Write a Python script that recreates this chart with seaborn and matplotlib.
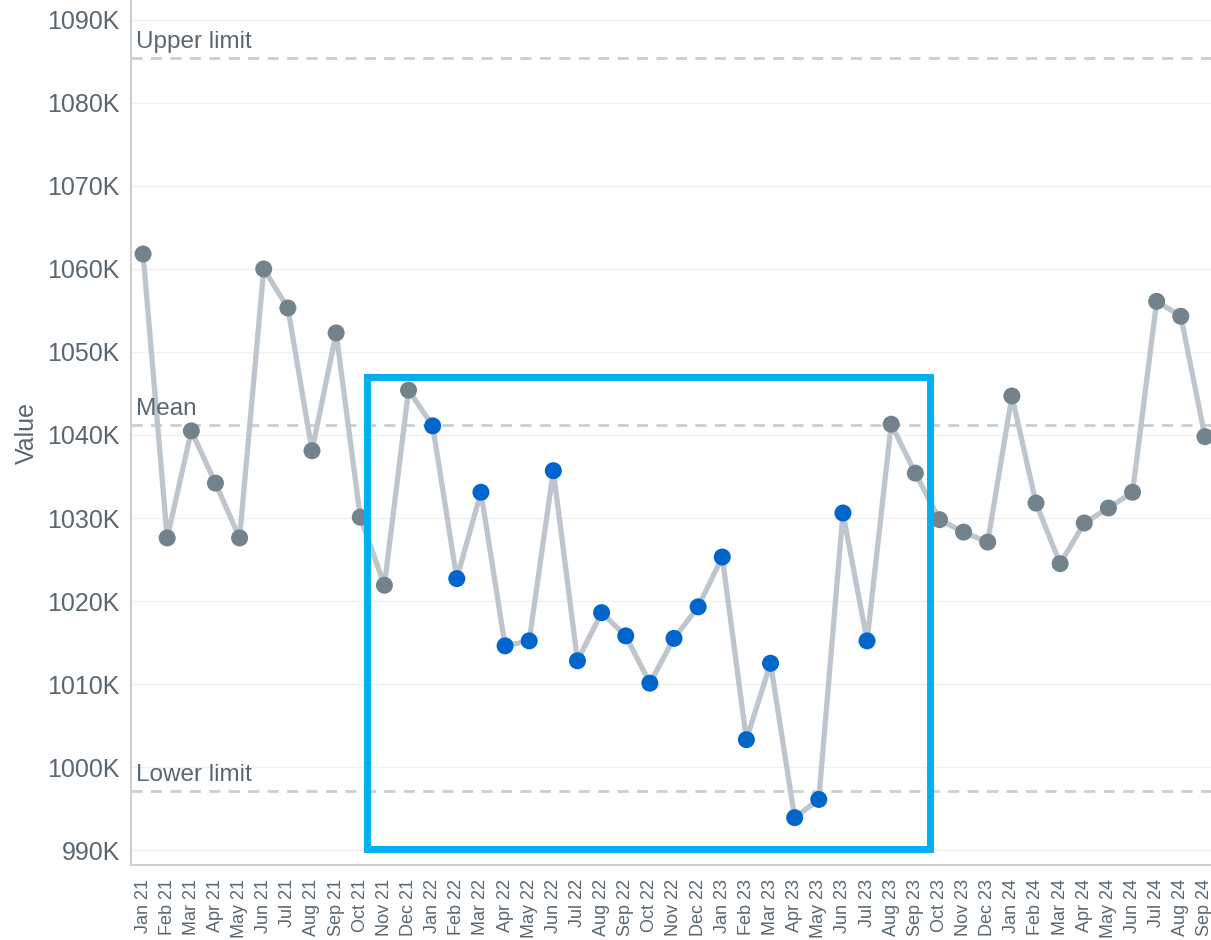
import numpy as np
import pandas as pd
import matplotlib
matplotlib.use("Agg")
import matplotlib.pyplot as plt
from matplotlib.patches import Rectangle
import seaborn as sns

# Data (values in thousands)
months = ["Jan 21", "Feb 21", "Mar 21", "Apr 21", "May 21", "Jun 21", "Jul 21", "Aug 21",
          "Sep 21", "Oct 21", "Nov 21", "Dec 21", "Jan 22", "Feb 22", "Mar 22", "Apr 22",
          "May 22", "Jun 22", "Jul 22", "Aug 22", "Sep 22", "Oct 22", "Nov 22", "Dec 22",
          "Jan 23", "Feb 23", "Mar 23", "Apr 23", "May 23", "Jun 23", "Jul 23", "Aug 23",
          "Sep 23", "Oct 23", "Nov 23", "Dec 23", "Jan 24", "Feb 24", "Mar 24", "Apr 24",
          "May 24", "Jun 24", "Jul 24", "Aug 24", "Sep 24"]
values = [1061.8, 1027.6, 1040.5, 1034.2, 1027.6, 1060.0, 1055.3, 1038.1,
          1052.3, 1030.1, 1021.9, 1045.4, 1041.1, 1022.7, 1033.1, 1014.6,
          1015.2, 1035.7, 1012.8, 1018.6, 1015.8, 1010.1, 1015.5, 1019.3,
          1025.3, 1003.3, 1012.5, 993.9, 996.1, 1030.6, 1015.2, 1041.3,
          1035.4, 1029.8, 1028.3, 1027.1, 1044.7, 1031.8, 1024.5, 1029.4,
          1031.2, 1033.1, 1056.1, 1054.3, 1039.8]
highlight_start = "Jan 22"
highlight_end = "Jul 23"

upper_limit = 1085.4
mean_value = 1041.2
lower_limit = 997.1
y_ticks = [990, 1000, 1010, 1020, 1030, 1040, 1050, 1060, 1070, 1080, 1090]

# highlight box (category index range and value range)
box_x = (9.28, 32.6)
box_y = (990.1, 1047.0)

df = pd.DataFrame({"month": months, "value": values})
df["idx"] = np.arange(len(df))
i0, i1 = months.index(highlight_start), months.index(highlight_end)
df["group"] = np.where((df["idx"] >= i0) & (df["idx"] <= i1), "in", "out")

text_col = "#5b6770"
sns.set_style("white")
plt.rcParams["font.family"] = ["Liberation Sans", "DejaVu Sans"]

fig = plt.figure(figsize=(12.11, 9.40), dpi=100)
ax = fig.add_axes([131 / 1211, 75 / 940, (1217 - 131) / 1211, 865 / 940])

for yv in y_ticks:
    ax.axhline(yv, color="#f0f0f0", lw=1, zorder=0)

for yv in [upper_limit, mean_value, lower_limit]:
    ax.axhline(yv, color="#c9ced4", lw=2, ls=(0, (4, 3)), zorder=1)

for yv, lab in [(upper_limit, "Upper limit"), (mean_value, "Mean"), (lower_limit, "Lower limit")]:
    ax.text(-0.3, yv + 0.6, lab, fontsize=17.5, color=text_col, ha="left", va="bottom")

sns.lineplot(data=df, x="idx", y="value", color="#bfc5cc", lw=3.8, ax=ax, zorder=2)
sns.scatterplot(data=df, x="idx", y="value", hue="group",
                palette={"in": "#0066cc", "out": "#73838e"},
                s=150, edgecolor="none", legend=False, ax=ax, zorder=3)

ax.add_patch(Rectangle((box_x[0], box_y[0]), box_x[1] - box_x[0], box_y[1] - box_y[0],
                       fill=False, edgecolor="#00b0f0", lw=5, zorder=4))

ax.set_xlim(-0.5, 44.5)
ax.set_ylim(988.2, 1092.4)
ax.set_yticks(y_ticks)
ax.set_yticklabels([f"{v}K" for v in y_ticks], fontsize=18, color=text_col)
ax.set_xticks(df["idx"])
ax.set_xticklabels(months, rotation=90, fontsize=13, color=text_col)
ax.set_xticks(np.arange(-0.5, 45, 1), minor=True)
ax.tick_params(axis="x", which="major", length=0, pad=10)
ax.tick_params(axis="x", which="minor", length=7, color="#e3e3e3", width=1)
ax.tick_params(axis="y", length=6, color="#eeeeee", width=1, pad=2)
ax.set_xlabel("")
ax.set_ylabel("Value", fontsize=18, color=text_col, labelpad=6)

for side in ["top", "right"]:
    ax.spines[side].set_visible(False)
ax.spines["left"].set_color("#d0d0d0")
ax.spines["bottom"].set_color("#d0d0d0")
ax.spines["left"].set_linewidth(1.5)
ax.spines["bottom"].set_linewidth(1.5)

fig.savefig("out.png", dpi=100)
